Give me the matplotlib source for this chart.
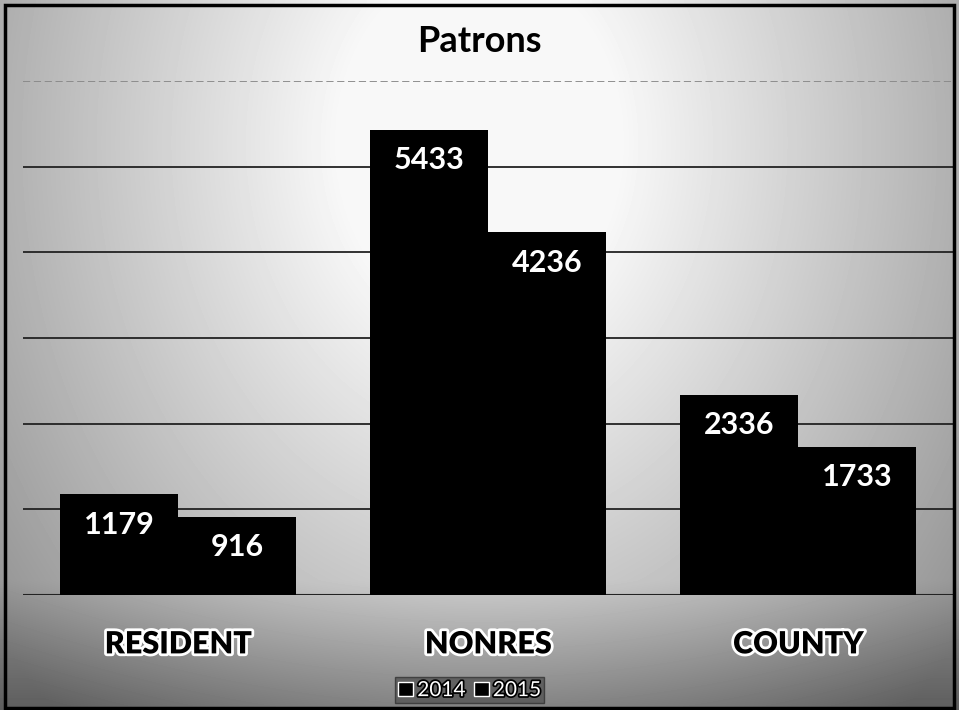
import numpy as np
import matplotlib.pyplot as plt
import matplotlib.patheffects as pe
from matplotlib.patches import Rectangle

# Data
categories = ["RESIDENT", "NONRES", "COUNTY"]
series_names = ["2014", "2015"]
values_2014 = [1179, 5433, 2336]
values_2015 = [916, 4236, 1733]

fig = plt.figure(figsize=(9.59, 7.10), dpi=100)

# Background: light centre fading to grey at edges and bottom
bg = fig.add_axes([0, 0, 1, 1], zorder=-10)
yy, xx = np.mgrid[0:1:200j, 0:1:260j]
dist = np.sqrt(((xx - 0.5) / 0.5) ** 2 + ((yy - 0.2) / 0.85) ** 2)
shade = 0.97 - 0.40 * np.clip(dist - 0.3, 0, 1) - 0.2 * np.clip(yy - 0.82, 0, 1) / 0.18
bg.imshow(shade, cmap="gray", vmin=0, vmax=1, aspect="auto", extent=[0, 1, 0, 1],
          origin="upper", interpolation="bilinear")
bg.set_xlim(0, 1)
bg.set_ylim(0, 1)
bg.axis("off")

ax = fig.add_axes([0.024, 0.162, 0.970, 0.724])
ax.patch.set_alpha(0)

x = np.arange(len(categories))
w = 0.38
bars1 = ax.bar(x - w / 2, values_2014, w, color="black", label=series_names[0], zorder=3)
bars2 = ax.bar(x + w / 2, values_2015, w, color="black", label=series_names[1], zorder=3)

for bars in (bars1, bars2):
    for b in bars:
        ax.annotate(f"{int(b.get_height())}", (b.get_x() + b.get_width() / 2, b.get_height()),
                    xytext=(0, -22), textcoords="offset points", ha="center", va="center",
                    color="white", fontsize=22, fontweight="bold", family="Lato", zorder=4)

ax.set_xlim(-0.5, 2.5)
ax.set_ylim(0, 6000)
ax.set_yticks(np.arange(1000, 6001, 1000))
ax.yaxis.grid(True, color="#222222", linewidth=1.3, zorder=1)
ax.get_ygridlines()[-1].set_color("#888888")
ax.get_ygridlines()[-1].set_linestyle((0, (4, 2)))
ax.tick_params(left=False, bottom=False, labelleft=False)
for s in ax.spines.values():
    s.set_visible(False)
ax.axhline(0, color="#222222", linewidth=1.5, zorder=2)

ax.set_xticks(x)
ax.set_xticklabels(categories, fontsize=22, fontweight="heavy", family="Lato")
for t in ax.get_xticklabels():
    t.set_path_effects([pe.withStroke(linewidth=4, foreground="white")])
ax.tick_params(axis="x", pad=22)

fig.text(0.5, 0.942, "Patrons", ha="center", va="center", fontsize=26,
         fontweight="bold", family="Lato")

leg = fig.legend(loc="center", bbox_to_anchor=(0.49, 0.028), ncol=2, frameon=True,
                 handlelength=0.7, handleheight=0.7, handletextpad=0.2,
                 columnspacing=0.4, borderpad=0.15, fancybox=False,
                 prop={"family": "Lato", "size": 15})
leg.get_frame().set_facecolor("#555555")
leg.get_frame().set_edgecolor("#333333")
for t in leg.get_texts():
    t.set_color("white")
    t.set_path_effects([pe.withStroke(linewidth=2.5, foreground="black")])
for h in leg.legend_handles:
    h.set_edgecolor("white")

fig.patches.append(Rectangle((0.005, 0.003), 0.990, 0.990, transform=fig.transFigure,
                             fill=False, edgecolor="black", linewidth=2.5))

fig.savefig("out.png", dpi=100)
